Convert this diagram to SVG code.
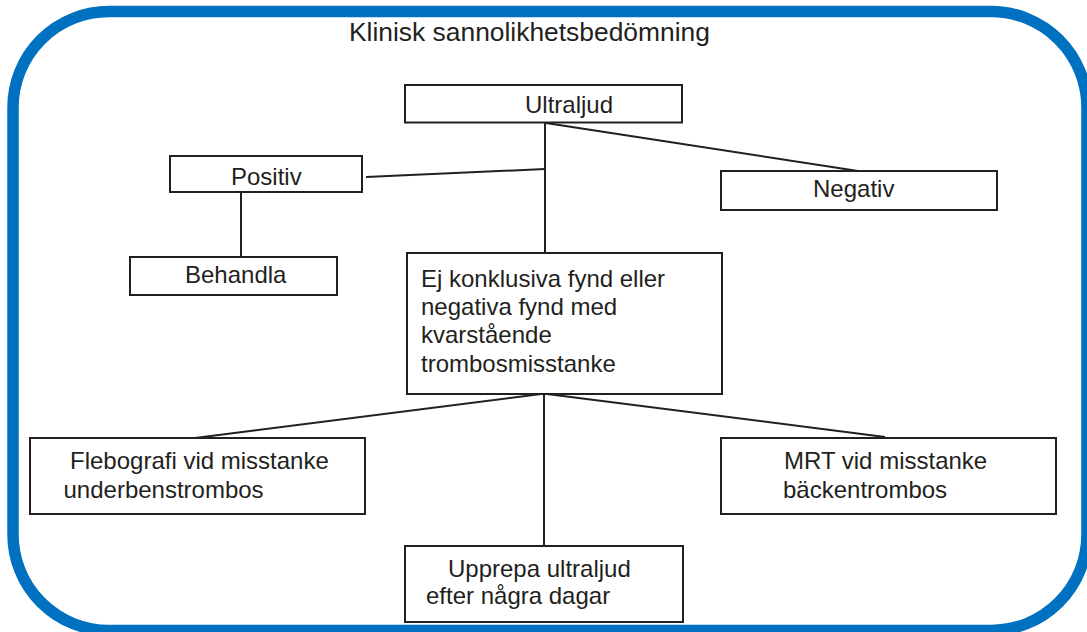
<svg xmlns="http://www.w3.org/2000/svg" width="1087" height="632" viewBox="0 0 1087 632">
<style>
.frame{fill:none;stroke:#0070C0;stroke-width:11.5}
.box{fill:#fff;stroke:#231F20;stroke-width:2}
.ln{stroke:#231F20;stroke-width:2;fill:none}
text{font-family:"Liberation Sans",Arial,sans-serif;font-size:24px;fill:#231F20}
.title{font-size:26.4px}
</style>
<rect width="1087" height="632" fill="#fff"/>
<rect class="frame" x="13" y="11.5" width="1074" height="619" rx="96" ry="96"/>
<text class="title" x="349" y="41">Klinisk sannolikhetsbedömning</text>
<g id="connectors">
<line class="ln" x1="545" y1="122" x2="545" y2="253"/>
<line class="ln" x1="366" y1="177" x2="545" y2="169"/>
<line class="ln" x1="546" y1="123" x2="858" y2="171"/>
<line class="ln" x1="241" y1="192" x2="241" y2="257"/>
<line class="ln" x1="544" y1="394" x2="544" y2="546"/>
<line class="ln" x1="541" y1="394" x2="195" y2="438"/>
<line class="ln" x1="547" y1="394" x2="885" y2="437"/>
</g>
<g id="ultraljud">
<rect class="box" x="405" y="85" width="277" height="37.5"/>
<text x="525" y="112.5">Ultraljud</text>
</g>
<g id="positiv">
<rect class="box" x="170" y="156" width="192" height="36"/>
<text x="231" y="185">Positiv</text>
</g>
<g id="negativ">
<rect class="box" x="721" y="171" width="276" height="39"/>
<text x="813" y="197">Negativ</text>
</g>
<g id="behandla">
<rect class="box" x="130" y="257" width="207" height="38"/>
<text x="185" y="283">Behandla</text>
</g>
<g id="ej-konklusiva">
<rect class="box" x="407" y="253" width="315" height="141"/>
<text x="421" y="287">Ej konklusiva fynd eller</text>
<text x="421" y="315">negativa fynd med</text>
<text x="421" y="343">kvarstående</text>
<text x="421" y="371.5">trombosmisstanke</text>
</g>
<g id="flebografi">
<rect class="box" x="30" y="438" width="335" height="76"/>
<text x="70" y="469">Flebografi vid misstanke</text>
<text x="63.5" y="498">underbenstrombos</text>
</g>
<g id="mrt">
<rect class="box" x="721" y="438" width="335" height="76"/>
<text x="784" y="469">MRT vid misstanke</text>
<text x="783" y="498">bäckentrombos</text>
</g>
<g id="upprepa">
<rect class="box" x="405" y="546" width="278" height="76"/>
<text x="448" y="577">Upprepa ultraljud</text>
<text x="426" y="604">efter några dagar</text>
</g>
</svg>
